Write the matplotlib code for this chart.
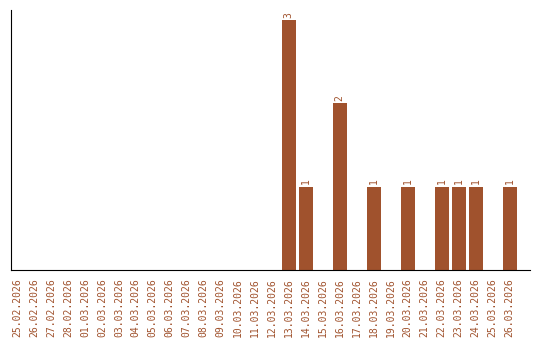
import numpy as np
import matplotlib
matplotlib.use('Agg')
import matplotlib.pyplot as plt

dates = ['25.02.2026', '26.02.2026', '27.02.2026', '28.02.2026', '01.03.2026',
         '02.03.2026', '03.03.2026', '04.03.2026', '05.03.2026', '06.03.2026',
         '07.03.2026', '08.03.2026', '09.03.2026', '10.03.2026', '11.03.2026',
         '12.03.2026', '13.03.2026', '14.03.2026', '15.03.2026', '16.03.2026',
         '17.03.2026', '18.03.2026', '19.03.2026', '20.03.2026', '21.03.2026',
         '22.03.2026', '23.03.2026', '24.03.2026', '25.03.2026', '26.03.2026']
counts = [0, 0, 0, 0, 0, 0, 0, 0, 0, 0, 0, 0, 0, 0, 0, 0,
          3, 1, 0, 2, 0, 1, 0, 1, 0, 1, 1, 1, 0, 1]

color = '#a0522d'

fig = plt.figure(figsize=(5.4, 3.4), dpi=100)
ax = fig.add_axes([11 / 540, 1 - 270 / 340, 519 / 540, 260 / 340])

x = np.arange(len(dates))
ax.bar(x, counts, width=0.82, color=color)

for xi, c in zip(x, counts):
    if c > 0:
        ax.text(xi, c + 0.03, str(c), rotation=90, ha='center', va='bottom',
                fontsize=7, family='DejaVu Sans Mono', color=color)

ax.set_xlim(-0.35, 30.2)
ax.set_ylim(0, 3.12)
ax.set_xticks(x)
ax.set_xticklabels(dates, rotation=90, fontsize=7, family='DejaVu Sans Mono', color=color)
ax.set_yticks([])
ax.tick_params(axis='x', length=0, pad=6)
ax.spines['top'].set_visible(False)
ax.spines['right'].set_visible(False)

fig.savefig('out.png', dpi=100)
